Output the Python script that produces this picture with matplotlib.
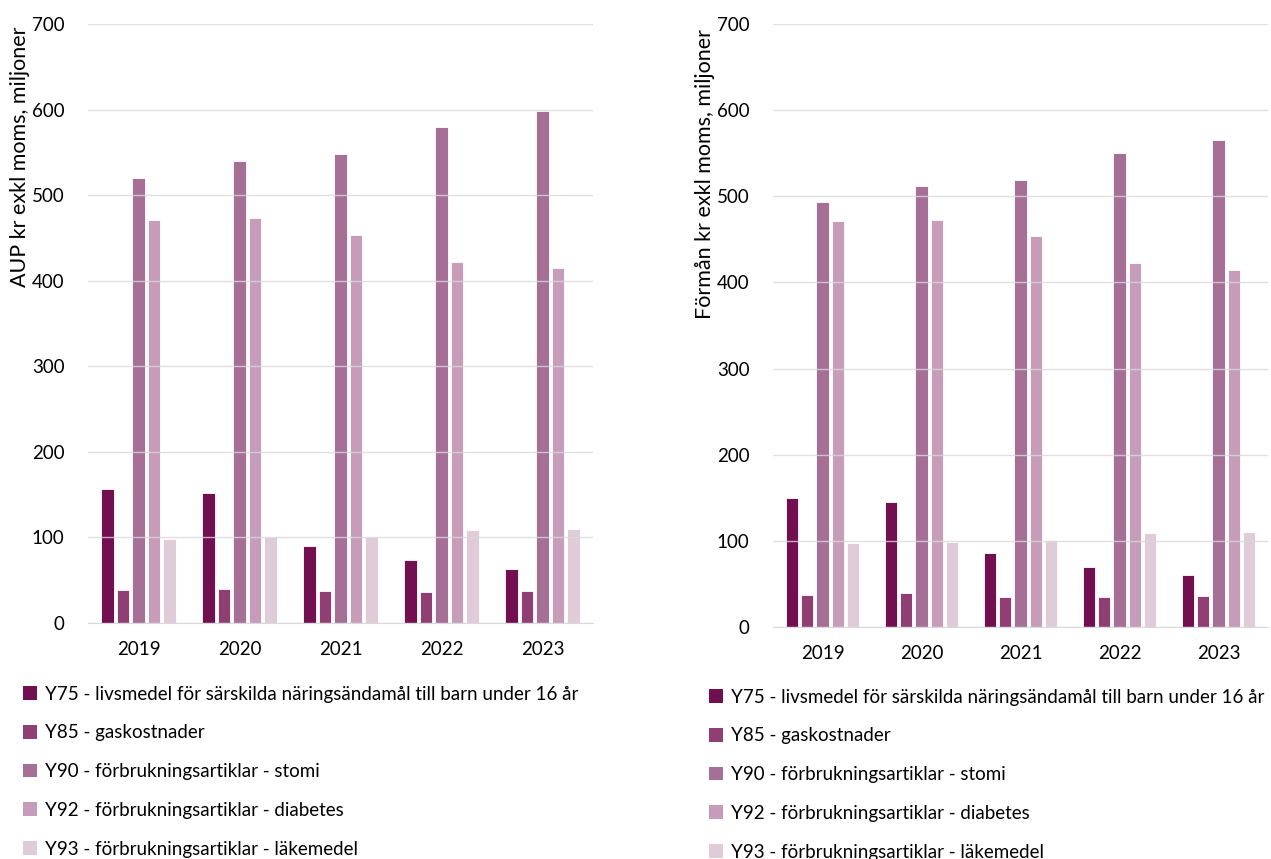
import matplotlib
matplotlib.use("Agg")
import matplotlib.pyplot as plt
from matplotlib.patches import Patch
import numpy as np

years = ["2019", "2020", "2021", "2022", "2023"]
series_names = [
    "Y75 - livsmedel för särskilda näringsändamål till barn under 16 år",
    "Y85 - gaskostnader",
    "Y90 - förbrukningsartiklar - stomi",
    "Y92 - förbrukningsartiklar - diabetes",
    "Y93 - förbrukningsartiklar - läkemedel",
]
colors = ["#720f50", "#8f3f73", "#a66f96", "#c79cb9", "#e0cbd9"]

aup_y75 = [157, 152, 90, 74, 63]
aup_y85 = [38, 40, 37, 36, 37]
aup_y90 = [520, 540, 548, 580, 598]
aup_y92 = [471, 473, 453, 422, 415]
aup_y93 = [98, 100, 101, 109, 110]

form_y75 = [150, 145, 86, 70, 60]
form_y85 = [37, 39, 35, 35, 36]
form_y90 = [493, 512, 519, 550, 565]
form_y92 = [471, 473, 454, 422, 415]
form_y93 = [98, 99, 101, 109, 110]

left_label = "AUP kr exkl moms, miljoner"
right_label = "Förmån kr exkl moms, miljoner"

plt.rcParams['font.family'] = ['Lato', 'DejaVu Sans']

W, H = 1271, 859
fig = plt.figure(figsize=(W/100, H/100), dpi=100)
ax1 = fig.add_axes([88/W, 1-623/H, (593-88)/W, (623-24)/H])
ax2 = fig.add_axes([773/W, 1-627/H, (1268-773)/W, (627-24)/H])

step = 0.153
width = 0.124
x = np.arange(len(years))

def draw(ax, data):
    for i, (vals, c) in enumerate(zip(data, colors)):
        ax.bar(x + (i - 2) * step, vals, width=width, color=c, edgecolor="white",
               linewidth=0.6, zorder=2)
    ax.set_xlim(-0.5, 4.5)
    ax.set_ylim(0, 700)
    ax.set_yticks(range(0, 701, 100))
    ax.set_xticks(x)
    ax.set_xticklabels(years)
    ax.grid(axis="y", color="#d9d9d9", linewidth=1.0, zorder=3, alpha=0.8)
    ax.set_axisbelow(False)
    for s in ["top", "right", "left"]:
        ax.spines[s].set_visible(False)
    ax.spines["bottom"].set_color("#d9d9d9")
    ax.tick_params(axis="both", length=0, labelsize=13.5, colors="black")
    ax.tick_params(axis="y", pad=17)
    ax.tick_params(axis="x", pad=13)

draw(ax1, [aup_y75, aup_y85, aup_y90, aup_y92, aup_y93])
draw(ax2, [form_y75, form_y85, form_y90, form_y92, form_y93])

fig.text(20/W, 1-157/H, left_label, rotation=90, ha="center", va="center", fontsize=15.5)
fig.text(705/W, 1-174/H, right_label, rotation=90, ha="center", va="center", fontsize=15.5)

handles = [Patch(facecolor=c, edgecolor="none") for c in colors]
for bx, by in [(17/W, 1-680/H), (703/W, 1-683/H)]:
    fig.legend(handles, series_names, loc="upper left",
               bbox_to_anchor=(bx, by), frameon=False,
               fontsize=13.5, labelspacing=1.16, handlelength=0.75, handleheight=0.75,
               handletextpad=0.45, borderaxespad=0, borderpad=0.3)

fig.savefig("out.png", dpi=100)
